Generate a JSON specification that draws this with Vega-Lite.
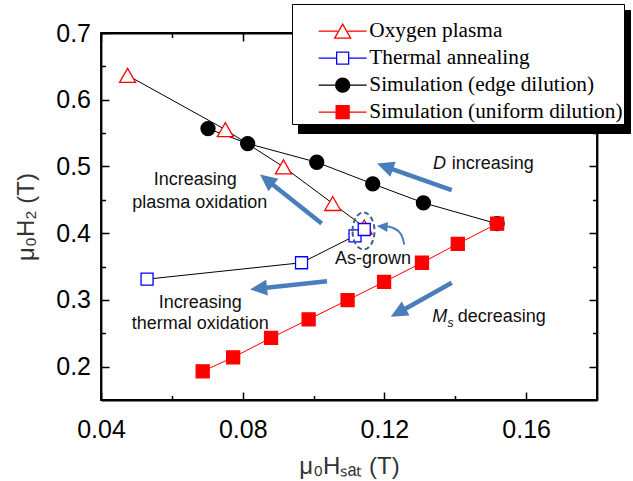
{
  "$schema": "https://vega.github.io/schema/vega-lite/v6.json",
  "width": 496,
  "height": 367,
  "autosize": {"type": "none"},
  "padding": {"left": 101, "top": 33, "right": 36, "bottom": 81},
  "background": "white",
  "datasets": {
    "series": [
      {"series": "Oxygen plasma", "x": 0.0475, "y": 0.6365},
      {"series": "Oxygen plasma", "x": 0.0751, "y": 0.5552},
      {"series": "Oxygen plasma", "x": 0.0915, "y": 0.4994},
      {"series": "Oxygen plasma", "x": 0.1054, "y": 0.4445},
      {"series": "Oxygen plasma", "x": 0.1143, "y": 0.4093},
      {"series": "Thermal annealing", "x": 0.0530, "y": 0.3311},
      {"series": "Thermal annealing", "x": 0.0966, "y": 0.3557},
      {"series": "Thermal annealing", "x": 0.1117, "y": 0.3961},
      {"series": "Thermal annealing", "x": 0.1143, "y": 0.4055},
      {"series": "Simulation (edge dilution)", "x": 0.0702, "y": 0.5567},
      {"series": "Simulation (edge dilution)", "x": 0.0814, "y": 0.5343},
      {"series": "Simulation (edge dilution)", "x": 0.1009, "y": 0.5063},
      {"series": "Simulation (edge dilution)", "x": 0.1167, "y": 0.4739},
      {"series": "Simulation (edge dilution)", "x": 0.1310, "y": 0.4455},
      {"series": "Simulation (edge dilution)", "x": 0.1518, "y": 0.4142},
      {"series": "Simulation (uniform dilution)", "x": 0.0687, "y": 0.1930},
      {"series": "Simulation (uniform dilution)", "x": 0.0773, "y": 0.2139},
      {"series": "Simulation (uniform dilution)", "x": 0.0880, "y": 0.2431},
      {"series": "Simulation (uniform dilution)", "x": 0.0986, "y": 0.2708},
      {"series": "Simulation (uniform dilution)", "x": 0.1096, "y": 0.2997},
      {"series": "Simulation (uniform dilution)", "x": 0.1199, "y": 0.3269},
      {"series": "Simulation (uniform dilution)", "x": 0.1306, "y": 0.3557},
      {"series": "Simulation (uniform dilution)", "x": 0.1407, "y": 0.3841},
      {"series": "Simulation (uniform dilution)", "x": 0.1518, "y": 0.4142}
    ],
    "arrows": [
      {"arrow": "plasma", "x": 0.1023, "y": 0.4145, "x2": 0.0880, "y2": 0.4748, "tx": 0.0849, "ty": 0.4879},
      {"arrow": "D", "x": 0.1390, "y": 0.4644, "x2": 0.1216, "y2": 0.4973, "tx": 0.1179, "ty": 0.5043},
      {"arrow": "thermal", "x": 0.1038, "y": 0.3281, "x2": 0.0860, "y2": 0.3180, "tx": 0.0821, "ty": 0.3157},
      {"arrow": "Ms", "x": 0.1390, "y": 0.3257, "x2": 0.1253, "y2": 0.2850, "tx": 0.1218, "ty": 0.2749}
    ],
    "curve": [
      {"i": 1, "x": 0.1256, "y": 0.3831},
      {"i": 2, "x": 0.1247, "y": 0.3981},
      {"i": 3, "x": 0.1225, "y": 0.4078},
      {"i": 4, "x": 0.1196, "y": 0.4108}
    ],
    "curvehead": [{"x": 0.1178, "y": 0.4108}],
    "ellipse": [{"x": 0.1141, "y": 0.4033}],
    "textCenter": [
      {"text": "Increasing", "x": 0.0666, "y": 0.4804},
      {"text": "plasma oxidation", "x": 0.0679, "y": 0.4455},
      {"text": "As-grown", "x": 0.1168, "y": 0.3606},
      {"text": "Increasing", "x": 0.0680, "y": 0.2958},
      {"text": "thermal oxidation", "x": 0.0680, "y": 0.2633}
    ],
    "textLeft": [
      {"text": "increasing", "x": 0.1390, "y": 0.5043},
      {"text": "decreasing", "x": 0.1407, "y": 0.2738}
    ],
    "textItalic": [
      {"text": "D", "x": 0.1337, "y": 0.5043},
      {"text": "M", "x": 0.1335, "y": 0.2738}
    ],
    "textSub": [
      {"text": "s", "x": 0.1378, "y": 0.2648}
    ]
  },
  "layer": [
    {
      "data": {"name": "arrows"},
      "mark": {"type": "rule", "color": "#4a7ebb", "strokeWidth": 4.5},
      "encoding": {
        "x": {"field": "x", "type": "quantitative", "scale": {"domain": [0.04, 0.18], "nice": false, "zero": false}, "axis": null},
        "y": {"field": "y", "type": "quantitative", "scale": {"domain": [0.15, 0.7], "nice": false, "zero": false}, "axis": null},
        "x2": {"field": "x2"},
        "y2": {"field": "y2"}
      }
    },
    {
      "data": {"name": "series"},
      "mark": {"type": "line", "strokeWidth": 1},
      "encoding": {
        "x": {
          "field": "x", "type": "quantitative",
          "scale": {"domain": [0.04, 0.18], "nice": false, "zero": false},
          "axis": {
            "orient": "bottom",
            "values": [0.04, 0.06, 0.08, 0.1, 0.12, 0.14, 0.16],
            "labelExpr": "round(datum.value*100) % 4 === 0 ? format(datum.value, '.2f') : ''",
            "tickSize": {"condition": {"test": "round(datum.value*100) % 4 === 0", "value": -8}, "value": -4.5},
            "labelPadding": 25, "labelFontSize": 25, "labelFont": "Liberation Sans", "labelColor": "black",
            "labelOverlap": false, "labelFlush": false, "labelBound": false, "labelAngle": 0,
            "title": "μ₀Hₛₐₜ (T)", "titleFont": "Liberation Sans", "titleFontSize": 24, "titleFontWeight": "normal",
            "titleColor": "#333333", "titlePadding": 9,
            "domainColor": "black", "domainWidth": 1.8, "tickColor": "black", "tickWidth": 1.5, "grid": false
          }
        },
        "y": {
          "field": "y", "type": "quantitative",
          "scale": {"domain": [0.15, 0.7], "nice": false, "zero": false},
          "axis": {
            "orient": "left",
            "values": [0.2, 0.25, 0.3, 0.35, 0.4, 0.45, 0.5, 0.55, 0.6, 0.65, 0.7],
            "labelExpr": "round(datum.value*100) % 10 === 0 ? format(datum.value, '.1f') : ''",
            "tickSize": {"condition": {"test": "round(datum.value*100) % 10 === 0", "value": -8}, "value": -4.5},
            "labelPadding": 18.5, "labelFontSize": 25, "labelFont": "Liberation Sans", "labelColor": "black",
            "labelOverlap": false, "labelFlush": false, "labelBound": false,
            "title": "μ₀H₂ (T)", "titleFont": "Liberation Sans", "titleFontSize": 24, "titleFontWeight": "normal",
            "titleColor": "#333333", "titlePadding": 17,
            "domainColor": "black", "domainWidth": 1.8, "tickColor": "black", "tickWidth": 1.5, "grid": false
          }
        },
        "stroke": {
          "field": "series", "type": "nominal",
          "scale": {
            "domain": ["Oxygen plasma", "Thermal annealing", "Simulation (edge dilution)", "Simulation (uniform dilution)", "none"],
            "range": ["#000000", "#000000", "#000000", "#ff0000", "transparent"]
          },
          "legend": {
            "title": " ", "legendX": 197, "legendY": -23, "fillColor": "black",
            "values": ["Oxygen plasma", "Thermal annealing", "Simulation (edge dilution)", "Simulation (uniform dilution)"],
            "labelExpr": "''",
            "symbolType": "M-10.65,-10.5H319.35V10.5H-10.65Z",
            "symbolSize": 4, "symbolOffset": 0, "symbolOpacity": 0
          }
        }
      }
    },
    {
      "data": {"name": "series"},
      "mark": {"type": "point", "filled": false, "size": 4, "opacity": 0, "strokeWidth": 1.3},
      "encoding": {
        "x": {
          "field": "x", "type": "quantitative",
          "scale": {"domain": [0.04, 0.18], "nice": false, "zero": false},
          "axis": {
            "orient": "top", "values": [0.04, 0.06, 0.08, 0.1, 0.12, 0.14, 0.16],
            "labels": false, "title": null,
            "tickSize": {"condition": {"test": "round(datum.value*100) % 4 === 0", "value": -8}, "value": -4.5},
            "domainColor": "black", "domainWidth": 1.8, "tickColor": "black", "tickWidth": 1.5, "grid": false
          }
        },
        "y": {
          "field": "y", "type": "quantitative",
          "scale": {"domain": [0.15, 0.7], "nice": false, "zero": false},
          "axis": {
            "orient": "right", "values": [0.2, 0.25, 0.3, 0.35, 0.4, 0.45, 0.5, 0.55, 0.6, 0.65, 0.7],
            "labels": false, "title": null,
            "tickSize": {"condition": {"test": "round(datum.value*100) % 10 === 0", "value": -8}, "value": -4.5},
            "domainColor": "black", "domainWidth": 1.8, "tickColor": "black", "tickWidth": 1.5, "grid": false
          }
        },
        "color": {
          "field": "series", "type": "nominal",
          "scale": {
            "domain": ["Oxygen plasma", "Thermal annealing", "Simulation (edge dilution)", "Simulation (uniform dilution)"],
            "range": ["#ff0000", "#0000ff", "#000000", "#ff0000"]
          },
          "legend": {
            "title": " ", "legendX": 191, "legendY": -29, "fillColor": "white",
            "symbolSize": 4, "symbolOpacity": 1, "symbolStrokeWidth": 1.3
          }
        },
        "fill": {
          "field": "series", "type": "nominal",
          "scale": {
            "domain": ["Oxygen plasma", "Thermal annealing", "Simulation (edge dilution)", "Simulation (uniform dilution)"],
            "range": ["#ffffff", "#ffffff", "#000000", "#ff0000"]
          },
          "legend": {"title": " "}
        },
        "shape": {
          "field": "series", "type": "nominal",
          "scale": {
            "domain": ["Oxygen plasma", "Thermal annealing", "Simulation (edge dilution)", "Simulation (uniform dilution)"],
            "range": [
              "M-24,0H-5M5,0H24M0,-7L8,7L-8,7Z",
              "M-24,0H-6M6,0H24M-6,-6H6V6H-6Z",
              "M-24,0H-7M7,0H24M-7,0A7,7,0,1,1,7,0A7,7,0,1,1,-7,0Z",
              "M-24,0H-6.5M6.5,0H24M-6.5,-6.5H6.5V6.5H-6.5Z"
            ]
          },
          "legend": {"title": " "}
        }
      }
    },
    {
      "data": {"name": "series"},
      "transform": [{"filter": "datum.series === 'Oxygen plasma'"}],
      "mark": {"type": "point", "shape": "M0,-7L8,7L-8,7Z", "size": 4, "filled": false, "fill": "#ffffff", "stroke": "#ff0000", "strokeWidth": 1.3, "opacity": 1},
      "encoding": {
        "x": {"field": "x", "type": "quantitative", "scale": {"domain": [0.04, 0.18], "nice": false, "zero": false}, "axis": null},
        "y": {"field": "y", "type": "quantitative", "scale": {"domain": [0.15, 0.7], "nice": false, "zero": false}, "axis": null}
      }
    },
    {
      "data": {"name": "series"},
      "transform": [{"filter": "datum.series === 'Thermal annealing'"}],
      "mark": {"type": "point", "shape": "M-6,-6H6V6H-6Z", "size": 4, "filled": false, "fill": "#ffffff", "stroke": "#0000ff", "strokeWidth": 1.3, "opacity": 1},
      "encoding": {
        "x": {"field": "x", "type": "quantitative", "scale": {"domain": [0.04, 0.18], "nice": false, "zero": false}, "axis": null},
        "y": {"field": "y", "type": "quantitative", "scale": {"domain": [0.15, 0.7], "nice": false, "zero": false}, "axis": null}
      }
    },
    {
      "data": {"name": "series"},
      "transform": [{"filter": "datum.series === 'Simulation (edge dilution)'"}],
      "mark": {"type": "point", "shape": "M-7,0A7,7,0,1,1,7,0A7,7,0,1,1,-7,0Z", "size": 4, "filled": false, "fill": "#000000", "stroke": "#000000", "strokeWidth": 1.3, "opacity": 1},
      "encoding": {
        "x": {"field": "x", "type": "quantitative", "scale": {"domain": [0.04, 0.18], "nice": false, "zero": false}, "axis": null},
        "y": {"field": "y", "type": "quantitative", "scale": {"domain": [0.15, 0.7], "nice": false, "zero": false}, "axis": null}
      }
    },
    {
      "data": {"name": "series"},
      "transform": [{"filter": "datum.series === 'Simulation (uniform dilution)'"}],
      "mark": {"type": "point", "shape": "M-6.5,-6.5H6.5V6.5H-6.5Z", "size": 4, "filled": false, "fill": "#ff0000", "stroke": "#ff0000", "strokeWidth": 1.3, "opacity": 1},
      "encoding": {
        "x": {"field": "x", "type": "quantitative", "scale": {"domain": [0.04, 0.18], "nice": false, "zero": false}, "axis": null},
        "y": {"field": "y", "type": "quantitative", "scale": {"domain": [0.15, 0.7], "nice": false, "zero": false}, "axis": null}
      }
    },
    {
      "data": {"name": "ellipse"},
      "mark": {"type": "point", "shape": "M-11,0A11,18.5,0,1,1,11,0A11,18.5,0,1,1,-11,0Z", "size": 4, "filled": false, "stroke": "#3d5d84", "strokeWidth": 2, "strokeDash": [5, 3], "opacity": 1},
      "encoding": {
        "x": {"field": "x", "type": "quantitative", "scale": {"domain": [0.04, 0.18], "nice": false, "zero": false}, "axis": null},
        "y": {"field": "y", "type": "quantitative", "scale": {"domain": [0.15, 0.7], "nice": false, "zero": false}, "axis": null}
      }
    },
    {
      "data": {"name": "curve"},
      "mark": {"type": "line", "color": "#4a7ebb", "strokeWidth": 2, "interpolate": "natural"},
      "encoding": {
        "x": {"field": "x", "type": "quantitative", "scale": {"domain": [0.04, 0.18], "nice": false, "zero": false}, "axis": null},
        "y": {"field": "y", "type": "quantitative", "scale": {"domain": [0.15, 0.7], "nice": false, "zero": false}, "axis": null},
        "order": {"field": "i", "type": "quantitative"}
      }
    },
    {
      "data": {"name": "arrows"},
      "mark": {"type": "point", "shape": "M0,0L8,17L-8,17Z", "size": 4, "filled": true, "color": "#4a7ebb", "opacity": 1},
      "encoding": {
        "x": {"field": "tx", "type": "quantitative", "scale": {"domain": [0.04, 0.18], "nice": false, "zero": false}, "axis": null},
        "y": {"field": "ty", "type": "quantitative", "scale": {"domain": [0.15, 0.7], "nice": false, "zero": false}, "axis": null},
        "angle": {"field": "arrow", "type": "nominal", "scale": {"type": "ordinal", "domain": ["plasma", "D", "thermal", "Ms"], "range": [308.5, 289.6, 263.8, 240.9]}, "legend": null}
      }
    },
    {
      "data": {"name": "curvehead"},
      "mark": {"type": "point", "shape": "M0,0L5,11L-5,11Z", "size": 4, "filled": true, "color": "#4a7ebb", "opacity": 1, "angle": 275},
      "encoding": {
        "x": {"field": "x", "type": "quantitative", "scale": {"domain": [0.04, 0.18], "nice": false, "zero": false}, "axis": null},
        "y": {"field": "y", "type": "quantitative", "scale": {"domain": [0.15, 0.7], "nice": false, "zero": false}, "axis": null}
      }
    },
    {
      "data": {"name": "textCenter"},
      "mark": {"type": "text", "font": "Liberation Sans", "fontSize": 18, "color": "#111111", "align": "center", "baseline": "middle"},
      "encoding": {
        "x": {"field": "x", "type": "quantitative", "scale": {"domain": [0.04, 0.18], "nice": false, "zero": false}, "axis": null},
        "y": {"field": "y", "type": "quantitative", "scale": {"domain": [0.15, 0.7], "nice": false, "zero": false}, "axis": null},
        "text": {"field": "text"}
      }
    },
    {
      "data": {"name": "textLeft"},
      "mark": {"type": "text", "font": "Liberation Sans", "fontSize": 18, "color": "#111111", "align": "left", "baseline": "middle"},
      "encoding": {
        "x": {"field": "x", "type": "quantitative", "scale": {"domain": [0.04, 0.18], "nice": false, "zero": false}, "axis": null},
        "y": {"field": "y", "type": "quantitative", "scale": {"domain": [0.15, 0.7], "nice": false, "zero": false}, "axis": null},
        "text": {"field": "text"}
      }
    },
    {
      "data": {"name": "textItalic"},
      "mark": {"type": "text", "font": "Liberation Sans", "fontSize": 18, "fontStyle": "italic", "color": "#111111", "align": "left", "baseline": "middle"},
      "encoding": {
        "x": {"field": "x", "type": "quantitative", "scale": {"domain": [0.04, 0.18], "nice": false, "zero": false}, "axis": null},
        "y": {"field": "y", "type": "quantitative", "scale": {"domain": [0.15, 0.7], "nice": false, "zero": false}, "axis": null},
        "text": {"field": "text"}
      }
    },
    {
      "data": {"name": "textSub"},
      "mark": {"type": "text", "font": "Liberation Sans", "fontSize": 12, "fontStyle": "italic", "color": "#111111", "align": "left", "baseline": "middle"},
      "encoding": {
        "x": {"field": "x", "type": "quantitative", "scale": {"domain": [0.04, 0.18], "nice": false, "zero": false}, "axis": null},
        "y": {"field": "y", "type": "quantitative", "scale": {"domain": [0.15, 0.7], "nice": false, "zero": false}, "axis": null},
        "text": {"field": "text"}
      }
    }
  ],
  "resolve": {"axis": {"x": "independent", "y": "independent"}},
  "config": {
    "view": {"stroke": "black", "strokeWidth": 1.8},
    "font": "Liberation Sans",
    "legend": {
      "orient": "none",
      "padding": 1,
      "titleFont": "Liberation Serif",
      "titleFontSize": 12,
      "titlePadding": 3.5,
      "labelFont": "Liberation Serif",
      "labelFontSize": 21.3,
      "labelColor": "black",
      "labelLimit": 500,
      "symbolOffset": 39,
      "labelOffset": 16,
      "rowPadding": 5,
      "strokeColor": "black",
      "cornerRadius": 0
    }
  }
}
